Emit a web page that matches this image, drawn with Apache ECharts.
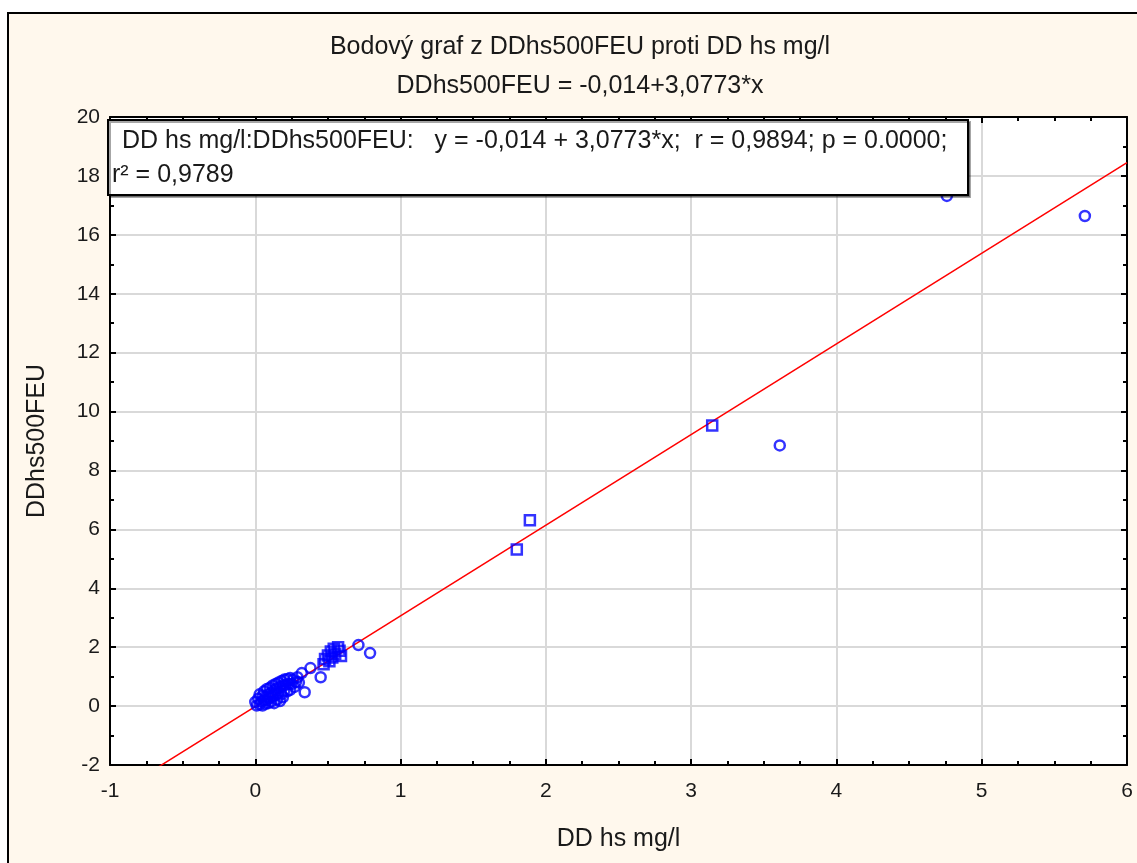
<!DOCTYPE html>
<html>
<head>
<meta charset="utf-8">
<title>Bodový graf z DDhs500FEU proti DD hs mg/l</title>
<script src="https://cdn.jsdelivr.net/npm/echarts@6/dist/echarts.min.js"></script>
<style>
  html, body { margin: 0; padding: 0; background: #fff; }
  #chart { width: 1137px; height: 863px; }
</style>
</head>
<body>
<div id="chart"></div>
<script>
// hodnoty [DD hs mg/l, DDhs500FEU]
const squarePoints = [
    [0.47, 1.42], [0.48, 1.60], [0.50, 1.72], [0.51, 1.52], [0.52, 1.85],
    [0.53, 1.65], [0.54, 1.95], [0.55, 1.78], [0.57, 2.00], [0.58, 1.88],
    [0.59, 1.70],
    [1.80, 5.32], [1.89, 6.31], [3.145, 9.53]
];
const circlePoints = [
    [0.00, 0.14], [0.01, 0.02], [0.02, 0.25], [0.03, 0.05], [0.03, 0.40],
    [0.04, 0.15], [0.05, 0.02], [0.05, 0.35], [0.06, 0.20], [0.06, 0.50],
    [0.07, 0.08], [0.07, 0.32], [0.08, 0.58], [0.08, 0.20], [0.09, 0.40],
    [0.09, 0.10], [0.10, 0.62], [0.10, 0.28], [0.11, 0.45], [0.11, 0.15],
    [0.12, 0.70], [0.12, 0.33], [0.13, 0.55], [0.13, 0.10], [0.14, 0.75],
    [0.14, 0.38], [0.15, 0.60], [0.15, 0.22], [0.16, 0.80], [0.16, 0.44],
    [0.17, 0.17], [0.17, 0.65], [0.18, 0.85], [0.18, 0.40], [0.19, 0.70],
    [0.19, 0.30], [0.20, 0.90], [0.20, 0.52], [0.21, 0.72], [0.22, 0.92],
    [0.22, 0.50], [0.23, 0.75], [0.24, 0.95], [0.24, 0.55], [0.25, 0.75],
    [0.26, 0.90], [0.27, 0.65], [0.28, 0.82], [0.29, 0.98], [0.30, 0.80],
    [0.32, 1.12], [0.34, 0.47], [0.38, 1.29], [0.45, 0.98], [0.71, 2.07],
    [0.79, 1.80],
    [3.61, 8.85], [4.76, 17.32], [5.71, 16.64]
];

// regrese
const intercept = -0.014;
const slope = 3.0773;

// osy
const xRange = [-1, 6];
const yRange = [-2, 20];
const xStep = 1;
const yStep = 2;

const titleLines = ['Bodový graf z DDhs500FEU proti DD hs mg/l', 'DDhs500FEU = -0,014+3,0773*x'];
const statLines = ['DD hs mg/l:DDhs500FEU:   y = -0,014 + 3,0773*x;  r = 0,9894; p = 0.0000;', 'r² = 0,9789'];

const regLine = xRange.map(x => [x, intercept + slope * x]);

const fontFamily = '"Liberation Sans", Arial, sans-serif';
const textColor = '#1a1a1a';

const myChart = echarts.init(document.getElementById('chart'));

// spolecne nastaveni os
function makeAxis(position, range, step, minorSplit, showLabel) {
    return {
        type: 'value',
        position: position,
        min: range[0],
        max: range[1],
        interval: step,
        axisLine: { show: true, onZero: false, lineStyle: { color: '#000', width: 2 } },
        axisTick: { show: true, inside: true, length: 6, lineStyle: { color: '#000', width: 2 } },
        minorTick: { show: true, splitNumber: minorSplit, length: 4, lineStyle: { color: '#000', width: 2 } },
        axisLabel: {
            show: showLabel,
            color: textColor,
            fontSize: 21,
            fontFamily: fontFamily,
            margin: position === 'bottom' ? 16 : 10
        },
        splitLine: { show: showLabel, lineStyle: { color: '#d9d9d9', width: 2 } },
        minorSplitLine: { show: false }
    };
}

const option = {
    backgroundColor: '#fff',
    animation: false,
    grid: {
        left: 110,
        right: 10,
        top: 117,
        bottom: 98,
        show: true,
        backgroundColor: '#fff',
        borderWidth: 0
    },
    xAxis: [
        Object.assign(makeAxis('bottom', xRange, xStep, 4, true), {
            name: 'DD hs mg/l',
            nameLocation: 'middle',
            nameGap: 62,
            nameTextStyle: { color: textColor, fontSize: 25, fontFamily: fontFamily }
        }),
        makeAxis('top', xRange, xStep, 4, false)
    ],
    yAxis: [
        Object.assign(makeAxis('left', yRange, yStep, 2, true), {
            name: 'DDhs500FEU',
            nameLocation: 'middle',
            nameGap: 60,
            nameTextStyle: { color: textColor, fontSize: 25, fontFamily: fontFamily }
        }),
        makeAxis('right', yRange, yStep, 2, false)
    ],
    graphic: [
        {
            type: 'rect',
            z: -10,
            shape: { x: 8, y: 13, width: 1140, height: 860 },
            style: { fill: '#fff8ed', stroke: '#000', lineWidth: 2 },
            silent: true
        },
        {
            type: 'text',
            x: 580,
            y: 47,
            style: {
                text: titleLines[0], fill: textColor, font: '25px ' + fontFamily,
                textAlign: 'center', textVerticalAlign: 'middle'
            }
        },
        {
            type: 'text',
            x: 580,
            y: 86,
            style: {
                text: titleLines[1], fill: textColor, font: '25px ' + fontFamily,
                textAlign: 'center', textVerticalAlign: 'middle'
            }
        },
        {
            type: 'rect',
            z: 100,
            shape: { x: 108, y: 120, width: 860, height: 75 },
            style: {
                fill: '#fff', stroke: '#000', lineWidth: 2,
                shadowColor: 'rgba(0,0,0,0.35)', shadowOffsetX: 2, shadowOffsetY: 2
            }
        },
        {
            type: 'text',
            z: 101,
            x: 122,
            y: 141,
            style: { text: statLines[0], fill: textColor, font: '25px ' + fontFamily, textVerticalAlign: 'middle' }
        },
        {
            type: 'text',
            z: 101,
            x: 112,
            y: 175,
            style: { text: statLines[1], fill: textColor, font: '25px ' + fontFamily, textVerticalAlign: 'middle' }
        }
    ],
    series: [
        {
            name: 'regrese',
            type: 'line',
            data: regLine,
            showSymbol: false,
            clip: true,
            lineStyle: { color: '#ff0000', width: 1.5 },
            z: 3
        },
        {
            name: 'ctverce',
            type: 'scatter',
            data: squarePoints,
            symbol: 'rect',
            symbolSize: 10,
            itemStyle: { color: 'rgba(255,255,255,0)', borderColor: '#0000ff', borderWidth: 2.5 },
            z: 4
        },
        {
            name: 'kruhy',
            type: 'scatter',
            data: circlePoints,
            symbol: 'circle',
            symbolSize: 10,
            itemStyle: { color: 'rgba(255,255,255,0)', borderColor: '#0000ff', borderWidth: 2.5 },
            z: 4
        }
    ]
};

myChart.setOption(option);
</script>
</body>
</html>
